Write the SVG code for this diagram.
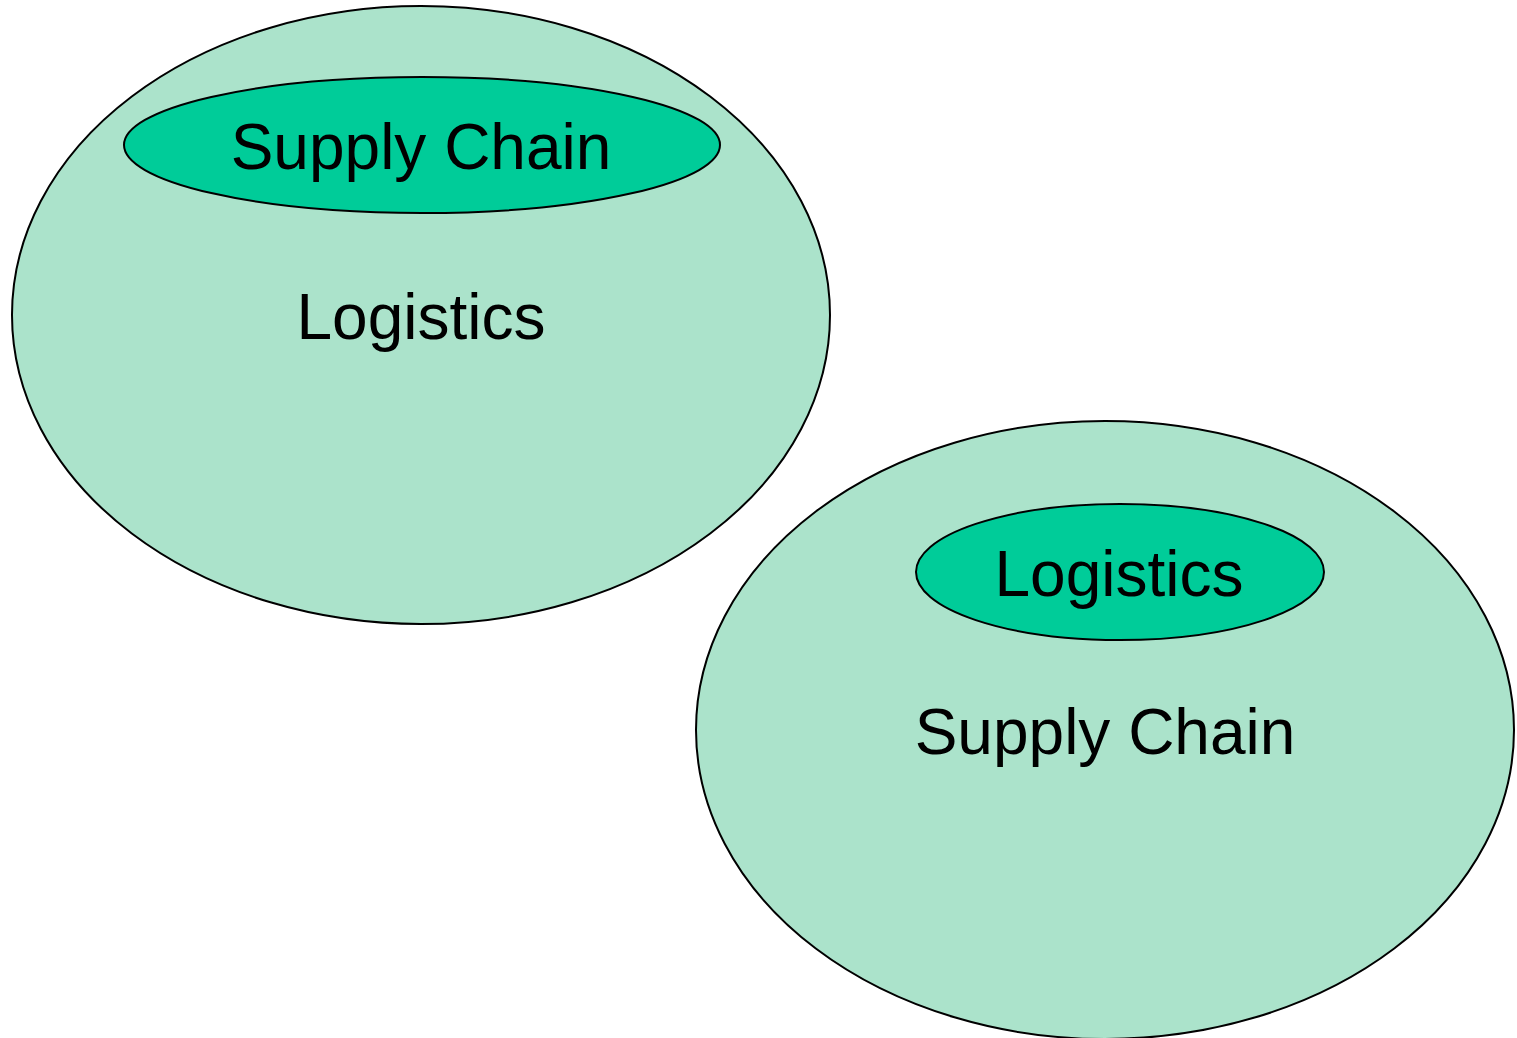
<svg xmlns="http://www.w3.org/2000/svg" width="1517" height="1038" viewBox="0 0 1517 1038">
<style>
.outer{fill:#ABE3CB;stroke:#000;stroke-width:2}
.inner{fill:#00CC99;stroke:#000;stroke-width:2}
.t{font-family:"Liberation Sans",Arial,sans-serif;font-size:64px;fill:#000;text-anchor:middle}
</style>
<rect width="1517" height="1038" fill="#fff"/>
<g id="node-logistics-outer">
<ellipse class="outer" cx="421" cy="315" rx="409" ry="309"/>
<text class="t" x="421" y="339">Logistics</text>
</g>
<g id="node-supplychain-inner">
<ellipse class="inner" cx="422" cy="145" rx="298" ry="68"/>
<text class="t" x="421" y="169">Supply Chain</text>
</g>
<g id="node-supplychain-outer">
<ellipse class="outer" cx="1105" cy="730" rx="409" ry="309"/>
<text class="t" x="1105" y="754">Supply Chain</text>
</g>
<g id="node-logistics-inner">
<ellipse class="inner" cx="1120" cy="572" rx="204" ry="68"/>
<text class="t" x="1119" y="596">Logistics</text>
</g>
<g id="connectors"></g>
</svg>
